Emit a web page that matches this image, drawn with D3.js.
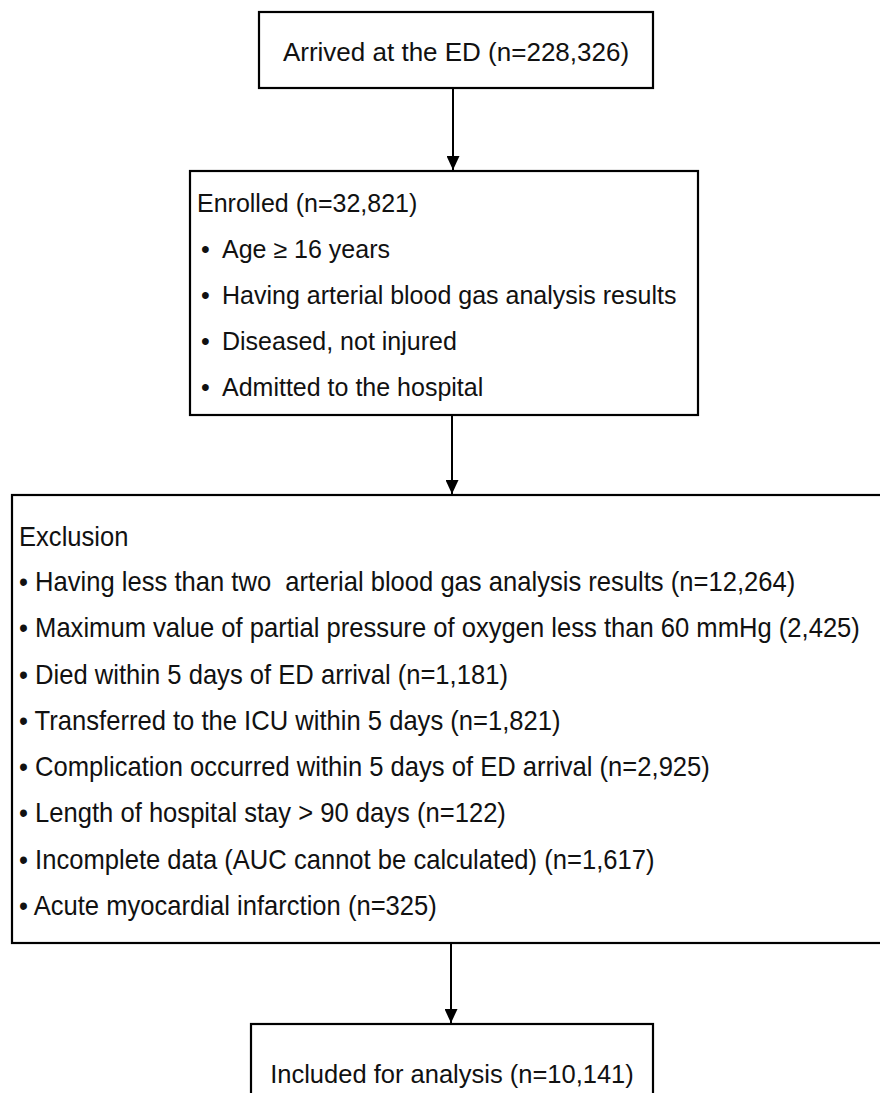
<!DOCTYPE html>
<html>
<head>
<meta charset="utf-8">
<script src="https://cdn.jsdelivr.net/npm/d3@7"></script>
<style>
  html, body { margin: 0; padding: 0; background: #fff; }
  svg { display: block; }
</style>
</head>
<body>
<script>
// ---- Data ----
const arrivedLabel = "Arrived at the ED (n=228,326)";
const enrolledTitle = "Enrolled (n=32,821)";
const enrolledCriteria = [
  "Age \u2265 16 years",
  "Having arterial blood gas analysis results",
  "Diseased, not injured",
  "Admitted to the hospital"
];
const exclusionTitle = "Exclusion";
const exclusionItems = [
  "Having less than two  arterial blood gas analysis results (n=12,264)",
  "Maximum value of partial pressure of oxygen less than 60 mmHg (2,425)",
  "Died within 5 days of ED arrival (n=1,181)",
  "Transferred to the ICU within 5 days (n=1,821)",
  "Complication occurred within 5 days of ED arrival (n=2,925)",
  "Length of hospital stay > 90 days (n=122)",
  "Incomplete data (AUC cannot be calculated) (n=1,617)",
  "Acute myocardial infarction (n=325)"
];
const includedLabel = "Included for analysis (n=10,141)";

// ---- Layout ----
const W = 880, H = 1093;
const svg = d3.select("body").append("svg")
  .attr("width", W).attr("height", H)
  .attr("viewBox", `0 0 ${W} ${H}`);

const mainFont = "'Liberation Sans', Arial, Helvetica, sans-serif";

svg.append("defs").append("marker")
  .attr("id", "arrow")
  .attr("viewBox", "0 0 14 13")
  .attr("refX", 14).attr("refY", 6.5)
  .attr("markerWidth", 14).attr("markerHeight", 13)
  .attr("markerUnits", "userSpaceOnUse")
  .attr("orient", "auto")
  .append("path")
  .attr("d", "M0,0 L14,6.5 L0,13 Z")
  .attr("fill", "#000");

const boxes = [
  { id: "arrived", x0: 259, x1: 653, y0: 12, y1: 88 },
  { id: "enrolled", x0: 190, x1: 698, y0: 171, y1: 415 },
  { id: "exclusion", x0: 12, x1: 900, y0: 495, y1: 943 },
  { id: "included", x0: 251, x1: 653, y0: 1024, y1: 1110 }
];

svg.selectAll("rect.box").data(boxes).join("rect")
  .attr("class", "box")
  .attr("x", d => d.x0).attr("y", d => d.y0)
  .attr("width", d => d.x1 - d.x0).attr("height", d => d.y1 - d.y0)
  .attr("fill", "none").attr("stroke", "#000").attr("stroke-width", 2.2);

const arrows = [
  { x: 453, y0: 88, y1: 170 },
  { x: 452, y0: 415, y1: 494 },
  { x: 451, y0: 943, y1: 1023 }
];
svg.selectAll("line.arrow").data(arrows).join("line")
  .attr("class", "arrow")
  .attr("x1", d => d.x).attr("x2", d => d.x)
  .attr("y1", d => d.y0).attr("y2", d => d.y1)
  .attr("stroke", "#000").attr("stroke-width", 2)
  .attr("marker-end", "url(#arrow)");

// Box 1 text
svg.append("text")
  .attr("x", 456).attr("y", 61)
  .attr("text-anchor", "middle")
  .attr("font-family", mainFont).attr("font-size", 26)
  .attr("fill", "#111")
  .text(arrivedLabel);

// Box 2 text
const g2 = svg.append("g").attr("font-family", mainFont).attr("font-size", 25).attr("fill", "#111");
g2.append("text").attr("x", 197).attr("y", 212).text(enrolledTitle);
const enrollY = d3.scaleLinear().domain([0, enrolledCriteria.length - 1]).range([258, 396]);
const eg = g2.selectAll("g.crit").data(enrolledCriteria).join("g").attr("class", "crit");
eg.append("text").attr("x", 201).attr("y", (d, i) => enrollY(i)).text("\u2022");
eg.append("text").attr("x", 222).attr("y", (d, i) => enrollY(i)).text(d => d);

// Box 3 text (condensed look)
const exFont = 27, exScale = 0.948;
const g3 = svg.append("g").attr("font-family", mainFont).attr("font-size", exFont).attr("fill", "#111");
g3.append("text")
  .attr("transform", `translate(19,546) scale(${exScale},1)`)
  .text(exclusionTitle);
const exY = d3.scaleLinear().domain([0, exclusionItems.length - 1]).range([591, 915]);
g3.selectAll("text.item").data(exclusionItems).join("text")
  .attr("class", "item")
  .attr("transform", (d, i) => `translate(19,${exY(i)}) scale(${exScale},1)`)
  .attr("xml:space", "preserve")
  .style("white-space", "pre")
  .text(d => "\u2022 " + d);

// Box 5 text
svg.append("text")
  .attr("x", 452).attr("y", 1083)
  .attr("text-anchor", "middle")
  .attr("font-family", mainFont).attr("font-size", 25.5)
  .attr("fill", "#111")
  .text(includedLabel);
</script>
</body>
</html>
